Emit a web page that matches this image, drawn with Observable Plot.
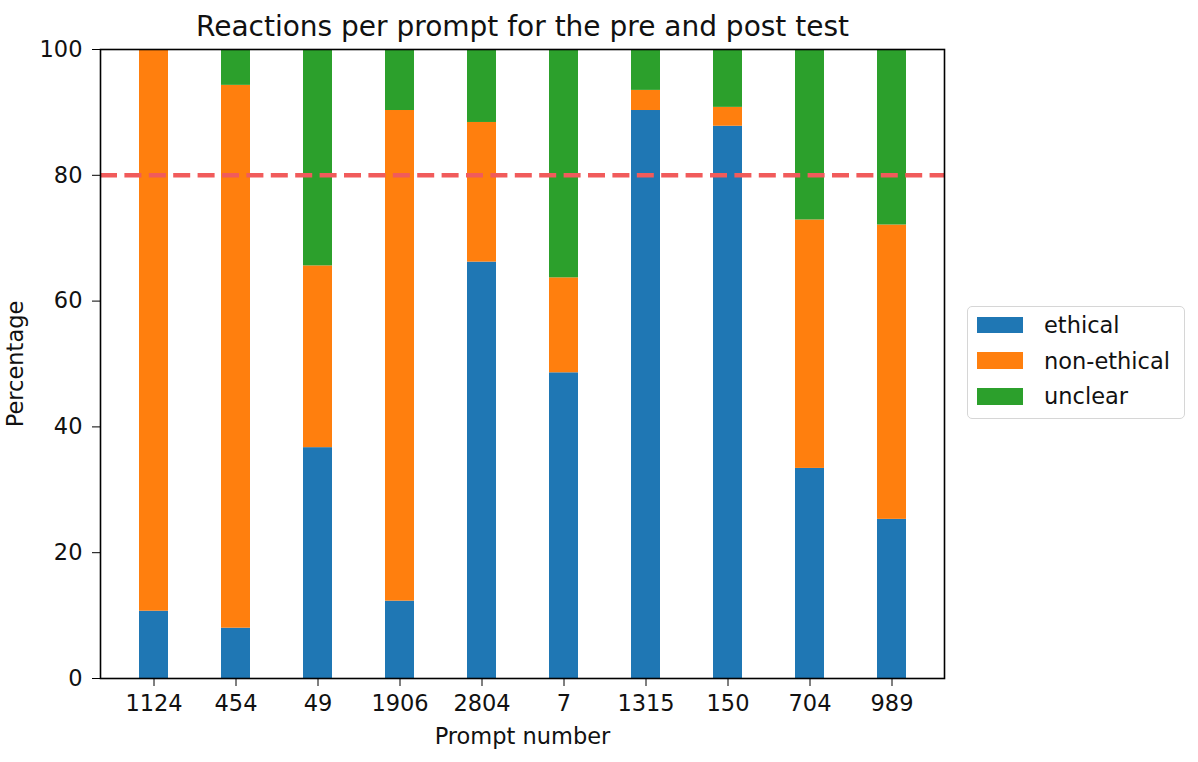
<!DOCTYPE html>
<html>
<head>
<meta charset="utf-8">
<script src="https://cdn.jsdelivr.net/npm/d3@7"></script>
<script src="https://cdn.jsdelivr.net/npm/@observablehq/plot@0.6"></script>
<style>
  html, body { margin: 0; padding: 0; background: #fff; }
  #wrap { position: relative; width: 1198px; height: 762px; font-family: "DejaVu Sans", sans-serif; }
  #legend { position: absolute; left: 967px; top: 306px; width: 218px; height: 113px;
            border: 1.5px solid #d6d6d6; border-radius: 5px; box-sizing: border-box; background: #fff; }
  .item { position: absolute; left: 9px; height: 17px; display: flex; align-items: center; font-size: 22.5px; color: #111; white-space: nowrap; }
  .sw { width: 45.5px; height: 16.6px; margin-right: 21.5px; flex: none; }
</style>
</head>
<body>
<div id="wrap"></div>
<script>
const prompts = ["1124", "454", "49", "1906", "2804", "7", "1315", "150", "704", "989"];
const series = ["ethical", "non-ethical", "unclear"];
const colors = ["#1f77b4", "#ff7f0e", "#2ca02c"];
const ethical    = [10.7, 8.0, 36.7, 12.3, 66.2, 48.6, 90.3, 87.8, 33.4, 25.3];
const nonEthical = [89.3, 86.3, 28.9, 78.0, 22.2, 15.1, 3.2, 3.0, 39.5, 46.8];
const unclear    = [0.0, 5.7, 34.4, 9.7, 11.6, 36.3, 6.5, 9.2, 27.1, 27.9];
const threshold = 80;
const yTicks = [0, 20, 40, 60, 80, 100];

const values = [ethical, nonEthical, unclear];
const rows = [];
series.forEach((s, i) => prompts.forEach((p, j) => rows.push({prompt: p, reaction: s, value: values[i][j]})));

const chart = Plot.plot({
  width: 1198,
  height: 762,
  marginTop: 49,
  marginBottom: 84,
  marginLeft: 100,
  marginRight: 254,
  style: {fontFamily: "DejaVu Sans, sans-serif", fontSize: "22.5px", color: "#111", background: "#fff"},
  x: {type: "band", domain: prompts, paddingInner: 0.65, paddingOuter: 0.467},
  y: {domain: [0, 100]},
  color: {domain: series, range: colors},
  marks: [
    Plot.barY(rows, {x: "prompt", y: "value", fill: "reaction", order: series}),
    Plot.ruleY([threshold], {stroke: "#f15b5b", strokeWidth: 4.5, strokeDasharray: "17,7.4"}),
    Plot.frame({stroke: "#000", strokeWidth: 1.6}),
    Plot.axisX({tickSize: 8, tickPadding: 9, fontSize: 22.5, label: "Prompt number", labelAnchor: "center", labelOffset: 65, stroke: "#000"}),
    Plot.axisY({ticks: yTicks, tickSize: 8, tickPadding: 10, fontSize: 22.5, label: "Percentage", labelAnchor: "center", labelOffset: 93, labelArrow: "none", stroke: "#000"}),
    Plot.text(["Reactions per prompt for the pre and post test"], {frameAnchor: "top", dy: -14, lineAnchor: "bottom", fontSize: 28, fill: "#111"})
  ]
});

const wrap = document.getElementById("wrap");
wrap.appendChild(chart);
const legend = document.createElement("div");
legend.id = "legend";
series.forEach((s, i) => {
  const it = document.createElement("div");
  it.className = "item";
  it.style.top = (9.5 + i * 35.7) + "px";
  it.innerHTML = `<div class="sw" style="background:${colors[i]}"></div><span>${s}</span>`;
  legend.appendChild(it);
});
wrap.appendChild(legend);
</script>
</body>
</html>
